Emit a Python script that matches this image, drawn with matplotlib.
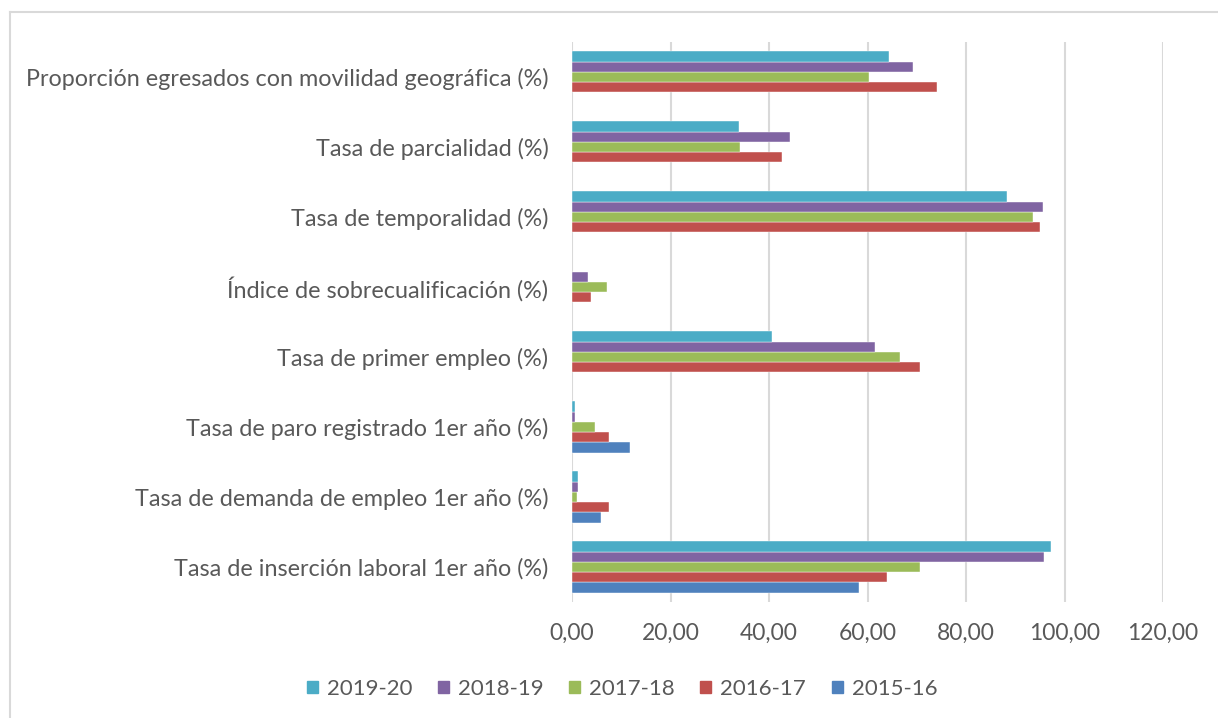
import matplotlib
matplotlib.use("Agg")
import matplotlib.pyplot as plt
from matplotlib.lines import Line2D
import numpy as np

plt.rcParams['font.family'] = ['Lato', 'DejaVu Sans']

categories = [
    "Tasa de inserción laboral 1er año (%)",
    "Tasa de demanda de empleo 1er año (%)",
    "Tasa de paro registrado 1er año (%)",
    "Tasa de primer empleo (%)",
    "Índice de sobrecualificación (%)",
    "Tasa de temporalidad (%)",
    "Tasa de parcialidad (%)",
    "Proporción egresados con movilidad geográfica (%)",
]
series_names = ["2015-16", "2016-17", "2017-18", "2018-19", "2019-20"]
v_2015_16 = [58.3, 5.8, 11.7, np.nan, np.nan, np.nan, np.nan, np.nan]
v_2016_17 = [64.0, 7.6, 7.6, 70.7, 3.9, 95.0, 42.6, 74.2]
v_2017_18 = [70.7, 1.1, 4.7, 66.6, 7.1, 93.7, 34.2, 60.4]
v_2018_19 = [95.8, 1.2, 0.6, 61.5, 3.3, 95.6, 44.2, 69.3]
v_2019_20 = [97.2, 1.2, 0.7, 40.7, np.nan, 88.3, 33.9, 64.4]
series_values = [v_2015_16, v_2016_17, v_2017_18, v_2018_19, v_2019_20]
colors = ["#4F81BD", "#C0504D", "#9BBB59", "#8064A2", "#4BACC6"]
xticks = [0, 20, 40, 60, 80, 100, 120]

fig = plt.figure(figsize=(12.18, 7.18), dpi=100)
ax = fig.add_axes([572/1218, 1-602/718, (1163-572)/1218, (602-42)/718])

y = np.arange(len(categories))
h = 0.146
for i, (name, vals, c) in enumerate(zip(series_names, series_values, colors)):
    ax.barh(y + (i-2)*h, vals, height=h, color=c, label=name, zorder=3,
            edgecolor='white', linewidth=0.3)

ax.set_xlim(0, 120)
ax.set_ylim(-0.5, len(categories)-0.5)
ax.set_xticks(xticks)
ax.set_xticklabels([f"{t:.2f}".replace('.', ',') for t in xticks])
ax.set_yticks(y)
ax.set_yticklabels(categories)
ax.tick_params(axis='both', length=0, labelsize=16.5, colors='#595959')
ax.tick_params(axis='y', labelsize=16.8, pad=17)
ax.tick_params(axis='x', pad=15)
ax.grid(axis='x', color='#d9d9d9', linewidth=1.5, zorder=0)
for s in ax.spines.values():
    s.set_visible(False)

handles = [plt.Rectangle((0, 0), 1, 1, color=c) for c in colors[::-1]]
leg = fig.legend(handles, series_names[::-1], loc='center', bbox_to_anchor=(622/1218, 1-689/718),
                 ncol=5, frameon=False, fontsize=16, handlelength=0.5, handleheight=0.5,
                 columnspacing=1.15, handletextpad=0.4)
for t in leg.get_texts():
    t.set_color('#595959')

fig.add_artist(Line2D([10/1218, 10/1218], [0, 1-12/718], color='#d9d9d9', linewidth=1.5))
fig.add_artist(Line2D([10/1218, 1], [1-12/718, 1-12/718], color='#d9d9d9', linewidth=1.5))

fig.savefig("out.png", dpi=100)
